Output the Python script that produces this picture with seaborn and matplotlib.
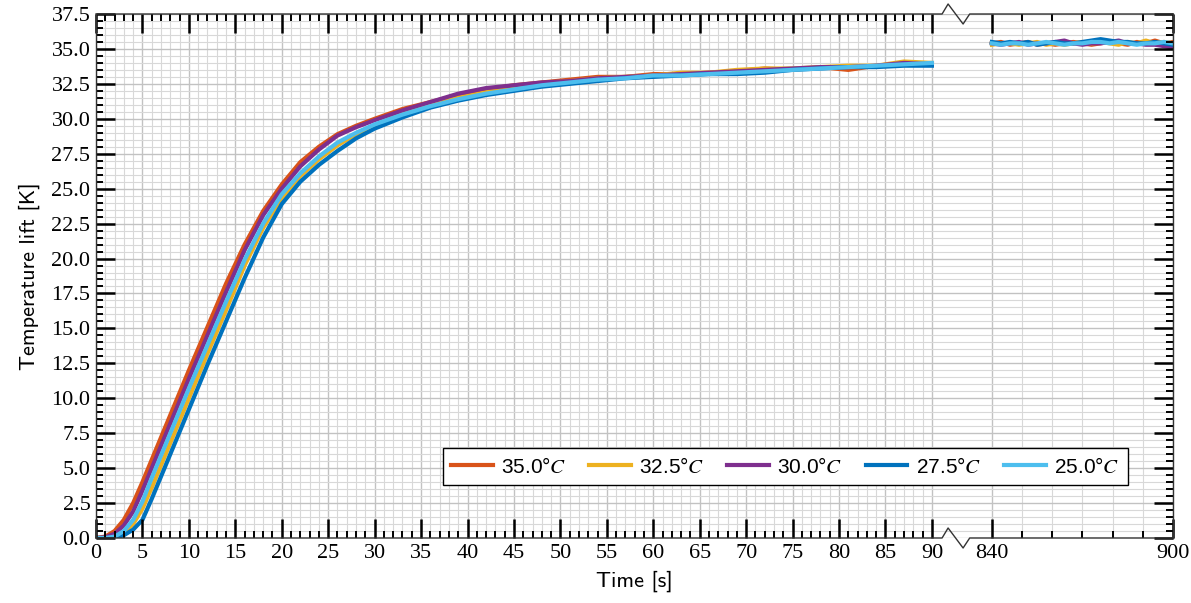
import numpy as np
import pandas as pd
import matplotlib
matplotlib.use("Agg")
import matplotlib.pyplot as plt
import seaborn as sns

# series labels and colours
labels = [r"35.0°$C$", r"32.5°$C$", r"30.0°$C$", r"27.5°$C$", r"25.0°$C$"]
colors = ["#D95319", "#EDB120", "#7E2F8E", "#0072BD", "#4DBEEE"]

# time axis, start-up part and end part (after the break)
t_start = [0, 1, 2, 3, 4, 5, 6, 7, 8, 10, 12, 14, 16, 18, 20, 22, 24, 26, 28, 30,
           33, 36, 39, 42, 45, 48, 51, 54, 57, 60, 63, 66, 69, 72, 75, 78, 81, 84, 87, 90]
t_end = [840, 843, 846, 849, 852, 855, 858, 861, 864, 867, 870,
         873, 876, 879, 882, 885, 888, 891, 894, 897, 900]

lift_350 = [0, 0.1, 0.5, 1.3, 2.5, 4.0, 5.6, 7.2, 8.8, 12.0, 15.1, 18.2, 21.0, 23.4, 25.3, 26.9, 28.0, 28.9, 29.5, 30.0,
            30.7, 31.2, 31.7, 32.1, 32.4, 32.6, 32.8, 33.0, 33.0, 33.2, 33.2, 33.3, 33.4, 33.6, 33.5, 33.7, 33.5, 33.8, 33.9, 33.9]
lift_325 = [0, 0, 0.05, 0.35, 1.0, 2.1, 3.6, 5.2, 6.8, 10.0, 13.2, 16.3, 19.5, 22.2, 24.3, 25.9, 27.1, 28.1, 28.9, 29.5,
            30.4, 31.0, 31.5, 31.9, 32.2, 32.5, 32.7, 32.9, 33.0, 33.1, 33.3, 33.3, 33.5, 33.6, 33.6, 33.7, 33.8, 33.8, 34.1, 34.0]
lift_300 = [0, 0.05, 0.3, 0.9, 1.9, 3.4, 5.0, 6.6, 8.2, 11.4, 14.5, 17.6, 20.6, 23.1, 25.0, 26.6, 27.8, 28.8, 29.4, 29.9,
            30.6, 31.2, 31.8, 32.2, 32.4, 32.6, 32.7, 32.9, 33.0, 33.1, 33.2, 33.3, 33.4, 33.5, 33.6, 33.7, 33.7, 33.8, 34.0, 33.9]
lift_275 = [0, 0, 0, 0.2, 0.6, 1.3, 2.8, 4.4, 6.0, 9.2, 12.4, 15.5, 18.6, 21.5, 23.9, 25.5, 26.7, 27.7, 28.6, 29.3,
            30.1, 30.8, 31.3, 31.7, 32.0, 32.3, 32.5, 32.7, 32.9, 33.0, 33.1, 33.2, 33.2, 33.3, 33.5, 33.6, 33.7, 33.7, 33.8, 33.8]
lift_250 = [0, 0, 0.1, 0.5, 1.3, 2.6, 4.3, 5.9, 7.5, 10.7, 13.8, 16.9, 19.9, 22.5, 24.6, 26.1, 27.3, 28.3, 29.0, 29.6,
            30.3, 30.9, 31.4, 31.8, 32.1, 32.4, 32.6, 32.8, 32.9, 33.1, 33.1, 33.2, 33.3, 33.4, 33.5, 33.6, 33.7, 33.8, 33.9, 34.0]

end_350 = [35.4, 35.5, 35.3, 35.4, 35.5, 35.3, 35.4, 35.3, 35.4, 35.5, 35.4, 35.3, 35.4, 35.5, 35.4, 35.3, 35.5, 35.4, 35.6, 35.4, 35.5]
end_325 = [35.3, 35.4, 35.4, 35.3, 35.4, 35.5, 35.3, 35.4, 35.3, 35.4, 35.5, 35.4, 35.5, 35.4, 35.3, 35.5, 35.4, 35.6, 35.4, 35.5, 35.4]
end_300 = [35.4, 35.3, 35.4, 35.5, 35.3, 35.4, 35.4, 35.5, 35.6, 35.4, 35.3, 35.4, 35.4, 35.5, 35.6, 35.4, 35.4, 35.3, 35.3, 35.2, 35.1]
end_275 = [35.5, 35.4, 35.5, 35.4, 35.5, 35.3, 35.4, 35.5, 35.4, 35.4, 35.5, 35.6, 35.7, 35.6, 35.5, 35.5, 35.4, 35.4, 35.5, 35.4, 35.3]
end_250 = [35.4, 35.3, 35.4, 35.4, 35.3, 35.4, 35.5, 35.4, 35.3, 35.4, 35.4, 35.5, 35.5, 35.4, 35.5, 35.4, 35.3, 35.4, 35.4, 35.5, 35.4]

start_runs = [lift_350, lift_325, lift_300, lift_275, lift_250]
end_runs = [end_350, end_325, end_300, end_275, end_250]

# long table, one unit per (series, segment) so the break is not bridged
rows = []
for lab, ys, ye in zip(labels, start_runs, end_runs):
    for t, v in zip(t_start, ys):
        rows.append((lab, "a", t, v))
    for t, v in zip(t_end, ye):
        rows.append((lab, "b", t, v))
df = pd.DataFrame(rows, columns=["series", "seg", "time", "lift"])
df["unit"] = df["series"] + df["seg"]

# broken x scale: 0-90 s, gap, 840-900 s compressed
GAP = 6.46
R = 0.325

def fwd(x):
    x = np.asarray(x, dtype=float)
    return np.where(x <= 90, x,
                    np.where(x >= 840, 90 + GAP + (x - 840) * R,
                             90 + (x - 90) * GAP / 750))

def inv(u):
    u = np.asarray(u, dtype=float)
    return np.where(u <= 90, u,
                    np.where(u >= 90 + GAP, 840 + (u - 90 - GAP) / R,
                             90 + (u - 90) * 750 / GAP))

plt.rcParams.update({
    "mathtext.fontset": "stix",
    "xtick.direction": "in", "ytick.direction": "in",
    "xtick.top": True, "xtick.bottom": True,
    "ytick.left": True, "ytick.right": True,
    "xtick.color": "black", "ytick.color": "black",
})

major_x = list(range(0, 91, 5)) + [840, 900]
minor_x = [v for v in range(1, 90) if v % 5] + [850, 860, 870, 880, 890]
yt = np.arange(0, 37.6, 2.5)
yt_minor = np.arange(0, 37.6, 0.5)

fig = plt.figure(figsize=(11.91, 6.03), dpi=100, facecolor="white")
rect = [96 / 1191, 65 / 603, 1077 / 1191, 524 / 603]
ax = fig.add_axes(rect)
ax.set_xscale("function", functions=(fwd, inv))

sns.lineplot(data=df, x="time", y="lift", hue="series", units="unit", estimator=None,
             hue_order=labels, palette=dict(zip(labels, colors)), linewidth=3.0,
             sort=False, ax=ax)

ax.set_xlim(0, 900)
ax.set_ylim(0, 37.5)
ax.set_xticks(major_x)
ax.set_xticks(minor_x, minor=True)
ax.set_yticks(yt)
ax.set_yticks(yt_minor, minor=True)
ax.grid(which="major", color="#c2c2c2", lw=1.0)
ax.grid(which="minor", color="#d8d8d8", lw=0.8)
ax.set_axisbelow(True)
ax.tick_params(which="both", length=0, labelleft=False, labelbottom=False)
ax.set_xlabel("")
ax.set_ylabel("")
for s in ax.spines.values():
    s.set_visible(False)

# overlay axes that carries the frame and ticks above the grid
axt = fig.add_axes(rect, sharex=ax, sharey=ax)
axt.patch.set_visible(False)
axt.grid(False)
axt.set_xticks(major_x)
axt.set_xticks(minor_x, minor=True)
axt.set_xticklabels([str(v) for v in major_x])
axt.set_yticks(yt)
axt.set_yticklabels([f"{v:.1f}" for v in yt])
axt.set_yticks(yt_minor, minor=True)
axt.tick_params(which="both", direction="in", top=True, right=True, bottom=True, left=True,
                color="black")
axt.tick_params(which="major", length=13.5, width=1.8, labelsize=16, pad=4)
axt.tick_params(which="minor", length=5, width=1.4)
for lab in axt.get_xticklabels() + axt.get_yticklabels():
    lab.set_family("Liberation Serif")

for side in ["left", "right"]:
    axt.spines[side].set_color("#333333")
    axt.spines[side].set_linewidth(1.0)
for side in ["top", "bottom"]:
    axt.spines[side].set_color("none")

# top and bottom frame with the break mark
g0 = float(fwd(90) / fwd(900))
g1 = float(fwd(840) / fwd(900))
gx = [0, g0 + 0.17 * (g1 - g0), g0 + 0.27 * (g1 - g0), g0 + 0.52 * (g1 - g0), g0 + 0.63 * (g1 - g0), 1]
dy = 10 / 524
for y0 in (0, 1):
    axt.plot(gx, [y0, y0, y0 + dy, y0 - dy, y0, y0], transform=axt.transAxes,
             color="#333333", lw=1.0, clip_on=False, zorder=6)

axt.set_xlabel("Time [s]", family="cmss10", fontsize=16, labelpad=6)
axt.set_ylabel("Temperature lift [K]", family="cmss10", fontsize=16, labelpad=8)

sns.move_legend(ax, "lower right", bbox_to_anchor=(0.958, 0.101), ncol=5, title=None,
                frameon=True, fancybox=False, edgecolor="black", framealpha=1,
                prop={"family": "Liberation Sans", "size": 15},
                handlelength=2.0, handletextpad=0.4, columnspacing=1.1,
                borderpad=0.4, borderaxespad=0)
leg = ax.get_legend()
leg.get_frame().set_linewidth(1.0)
for h in leg.get_lines():
    h.set_linewidth(3)

fig.savefig("out.png", dpi=100, facecolor="white")
